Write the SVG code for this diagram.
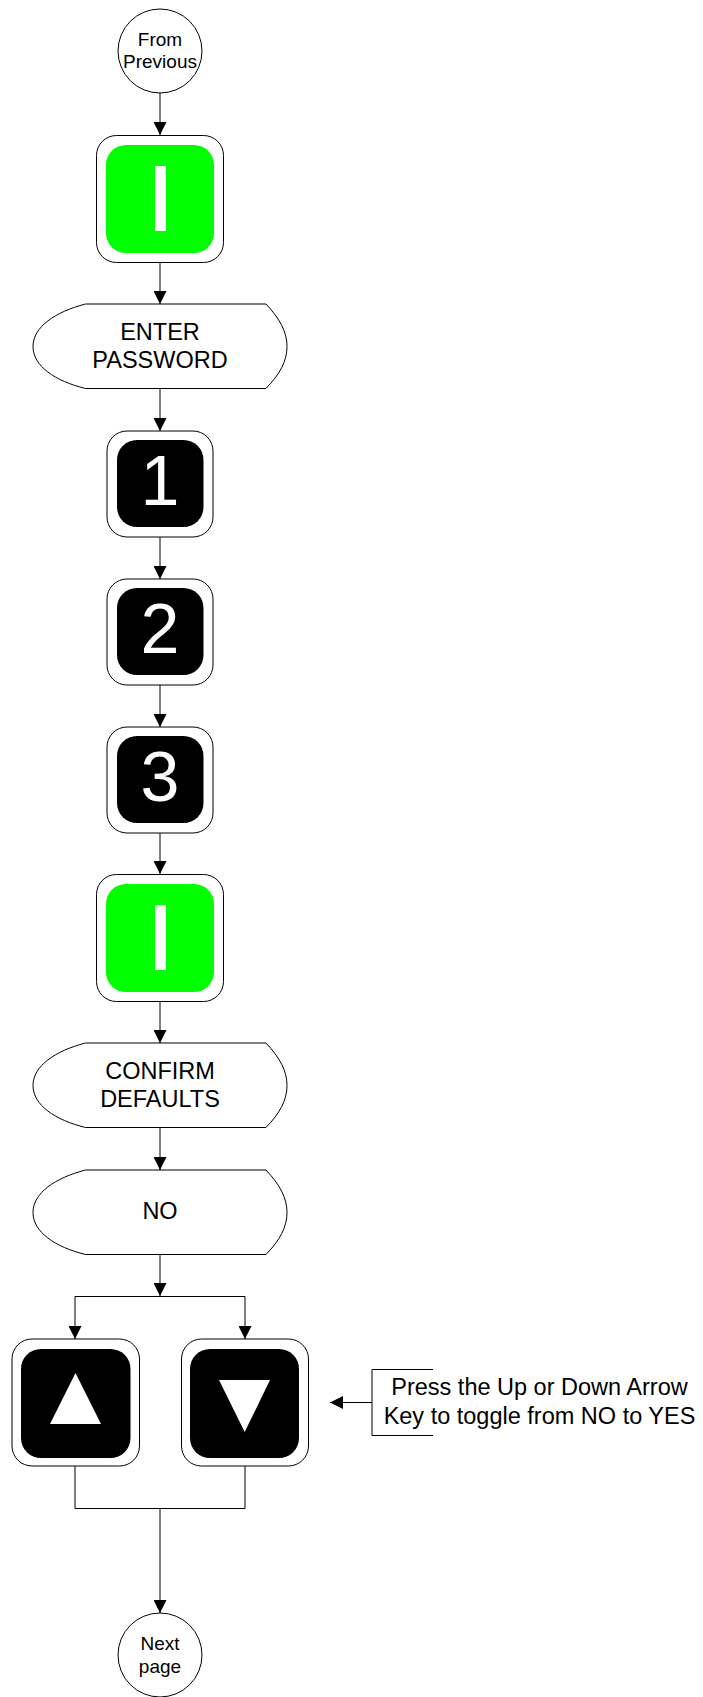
<svg xmlns="http://www.w3.org/2000/svg" width="703" height="1697" viewBox="0 0 703 1697">
<style>
text{font-family:"Liberation Sans",Arial,sans-serif;text-anchor:middle;fill:#000}
.o{fill:#fff;stroke:#000;stroke-width:1}
.l{fill:none;stroke:#000;stroke-width:1}
.g{fill:#0f0}.b{fill:#000}.w{fill:#fff}
.t18{font-size:19px}.t22{font-size:23.500px}.big{font-size:70px;fill:#fff}
</style>
<defs>
<marker id="a" markerUnits="userSpaceOnUse" markerWidth="13" markerHeight="13" refX="13" refY="6.5" orient="auto"><path d="M0 0L13 6.5L0 13Z" fill="#000"/></marker>
<path id="disp" d="M85.500 0H266L266 0C280 15 287 28 287 42.500C287 57 280 70 266 84.500H85.500C55 77 33 62 33 42.500C33 23 55 8 85.500 0Z" class="o"/>
</defs>
<g id="connectors">
<path class="l" marker-end="url(#a)" d="M160 93V135"/>
<path class="l" marker-end="url(#a)" d="M160 262V304"/>
<path class="l" marker-end="url(#a)" d="M160 389V431"/>
<path class="l" marker-end="url(#a)" d="M160 537V579"/>
<path class="l" marker-end="url(#a)" d="M160 685V727"/>
<path class="l" marker-end="url(#a)" d="M160 832V874"/>
<path class="l" marker-end="url(#a)" d="M160 1001V1043"/>
<path class="l" marker-end="url(#a)" d="M160 1128V1170"/>
<path class="l" marker-end="url(#a)" d="M160 1255V1296"/>
<path class="l" marker-end="url(#a)" d="M245 1296.500H75V1339"/>
<path class="l" marker-end="url(#a)" d="M245 1296.500V1339"/>
<path class="l" d="M75 1466V1508.500H245V1466"/>
<path class="l" marker-end="url(#a)" d="M160 1508.500V1613"/>
<path class="l" marker-end="url(#a)" d="M372 1402.500H330"/>
</g>
<g id="from-previous"><circle class="o" cx="160" cy="51" r="42"/><text class="t18" x="160" y="46">From</text><text class="t18" x="160" y="68">Previous</text></g>
<g id="key-i-1"><rect class="o" x="96.500" y="135.500" width="127" height="127" rx="20"/><rect class="g" x="106" y="145" width="108" height="108" rx="20"/><rect class="w" x="155" y="166" width="11" height="65"/></g>
<g id="enter-password"><use href="#disp" y="304"/><text class="t22" x="160" y="340">ENTER</text><text class="t22" x="160" y="368">PASSWORD</text></g>
<g id="key-1"><rect class="o" x="107" y="431" width="106" height="106" rx="20"/><rect class="b" x="117" y="440" width="86.500" height="87" rx="20"/><text class="big" x="160" y="505">1</text></g>
<g id="key-2"><rect class="o" x="107" y="579" width="106" height="106" rx="20"/><rect class="b" x="117" y="588" width="86.500" height="87" rx="20"/><text class="big" x="160" y="653">2</text></g>
<g id="key-3"><rect class="o" x="107" y="727" width="106" height="106" rx="20"/><rect class="b" x="117" y="736" width="86.500" height="87" rx="20"/><text class="big" x="160" y="801">3</text></g>
<g id="key-i-2"><rect class="o" x="96.500" y="874.500" width="127" height="127" rx="20"/><rect class="g" x="106" y="884" width="108" height="108" rx="20"/><rect class="w" x="155" y="905" width="11" height="65"/></g>
<g id="confirm-defaults"><use href="#disp" y="1043"/><text class="t22" x="160" y="1079">CONFIRM</text><text class="t22" x="160" y="1107">DEFAULTS</text></g>
<g id="no"><use href="#disp" y="1170"/><text class="t22" x="160" y="1219">NO</text></g>
<g id="key-up"><rect class="o" x="12" y="1339" width="127.500" height="127" rx="20"/><rect class="b" x="21" y="1349" width="109.500" height="109" rx="20"/><path class="w" d="M75.500 1373L101 1424H50Z"/></g>
<g id="key-down"><rect class="o" x="181.500" y="1339" width="127" height="127" rx="20"/><rect class="b" x="190" y="1349" width="109" height="109" rx="20"/><path class="w" d="M219 1380H270L244.700 1432Z"/></g>
<g id="note"><path class="l" d="M433 1369.500H372V1435.500H433"/><text class="t22" x="539.500" y="1395">Press the Up or Down Arrow</text><text class="t22" x="539.500" y="1424">Key to toggle from NO to YES</text></g>
<g id="next-page"><circle class="o" cx="160" cy="1655" r="42"/><text class="t18" x="160" y="1650">Next</text><text class="t18" x="160" y="1673">page</text></g>
</svg>
